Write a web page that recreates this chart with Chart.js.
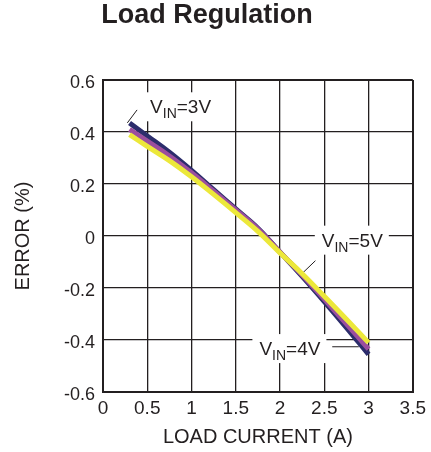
<!DOCTYPE html>
<html>
<head>
<meta charset="utf-8">
<script src="https://cdn.jsdelivr.net/npm/chart.js@4"></script>
<style>
  html, body { margin: 0; padding: 0; background: #fff; }
</style>
</head>
<body>
<canvas id="regChart" width="431" height="452"></canvas>
<script>
// -------------------------------
// DATA
// -------------------------------
const loadCurrent = [0.3, 0.5, 0.75, 1.0, 1.25, 1.5, 1.75, 2.0, 2.25, 2.5, 2.75, 3.0];
const errVin3 = [0.435, 0.385, 0.322, 0.252, 0.178, 0.104, 0.030, -0.062, -0.155, -0.252, -0.352, -0.455];
const errVin4 = [0.410, 0.365, 0.308, 0.243, 0.172, 0.100, 0.027, -0.062, -0.150, -0.243, -0.338, -0.435];
const errVin5 = [0.390, 0.345, 0.290, 0.228, 0.160, 0.090, 0.018, -0.065, -0.145, -0.232, -0.320, -0.410];

const xTickLabels = ["0", "0.5", "1", "1.5", "2", "2.5", "3", "3.5"];
const yTickLabels = ["-0.6", "-0.4", "-0.2", "0", "0.2", "0.4", "0.6"];

const seriesNames = ["3V", "4V", "5V"];

// -------------------------------
// STYLE
// -------------------------------
const FONT = '"Liberation Sans", Arial, Helvetica, sans-serif';
const INK = "#231f20";

function points(ys) {
    return loadCurrent.map((x, i) => ({ x: x, y: ys[i] }));
}

// -------------------------------
// V_IN LABELS (white boxed callouts with leader lines)
// -------------------------------
const vinNotes = {
    id: "vinNotes",
    beforeDatasetsDraw(chart, args, opts) {
        const { ctx } = chart;
        const xs = chart.scales.x, ys = chart.scales.y;
        ctx.save();
        opts.notes.forEach(n => {
            const px = xs.getPixelForValue(n.x);
            const py = ys.getPixelForValue(n.y);

            ctx.font = "19px " + FONT;
            const wV = ctx.measureText("V").width;
            const wTail = ctx.measureText("=" + n.name).width;
            ctx.font = "14px " + FONT;
            const wSub = ctx.measureText("IN").width;
            const total = wV + wSub + wTail;

            // white box hides the grid behind the text
            ctx.fillStyle = "#fff";
            ctx.fillRect(px - 7, py - 21, total + 13, 29);

            ctx.fillStyle = INK;
            ctx.textBaseline = "alphabetic";
            ctx.textAlign = "left";
            ctx.font = "19px " + FONT;
            ctx.fillText("V", px, py);
            ctx.font = "14px " + FONT;
            ctx.fillText("IN", px + wV, py + 5);
            ctx.font = "19px " + FONT;
            ctx.fillText("=" + n.name, px + wV + wSub, py);

            // leader line
            ctx.strokeStyle = INK;
            ctx.lineWidth = 1;
            ctx.beginPath();
            ctx.moveTo(xs.getPixelForValue(n.lead[0]), ys.getPixelForValue(n.lead[1]));
            ctx.lineTo(xs.getPixelForValue(n.lead[2]), ys.getPixelForValue(n.lead[3]));
            ctx.stroke();
        });
        ctx.restore();
    }
};

// -------------------------------
// CHART
// -------------------------------
const edgeWidth = c => (c.index === 0 || c.index === c.chart.scales[c.scale.id].ticks.length - 1) ? 2 : 1.3;

new Chart(document.getElementById("regChart"), {
    type: "scatter",
    data: {
        datasets: [
            { label: seriesNames[2], data: points(errVin5), borderColor: "#ece83a", order: 1 },
            { label: seriesNames[1], data: points(errVin4), borderColor: "#9b4f9e", order: 2 },
            { label: seriesNames[0], data: points(errVin3), borderColor: "#2c2d6c", order: 3 }
        ].map(d => Object.assign(d, {
            showLine: true,
            borderWidth: 5,
            pointRadius: 0,
            tension: 0.4,
            fill: false
        }))
    },
    options: {
        responsive: false,
        animation: false,
        layout: { padding: { left: 0, right: 17, top: 0, bottom: 0 } },
        plugins: {
            legend: { display: false },
            tooltip: { enabled: false },
            title: {
                display: true,
                text: "Load Regulation",
                color: INK,
                font: { family: FONT, size: 27, weight: "bold", lineHeight: 1 },
                padding: { top: 2, bottom: 51 }
            },
            vinNotes: {
                notes: [
                    { name: seriesNames[0], x: 0.532, y: 0.472, lead: [0.275, 0.435, 0.385, 0.485] },
                    { name: seriesNames[2], x: 2.472, y: -0.041, lead: [2.25, -0.144, 2.40, -0.095] },
                    { name: seriesNames[1], x: 1.767, y: -0.458, lead: [2.59, -0.426, 2.89, -0.426] }
                ]
            }
        },
        scales: {
            x: {
                type: "linear",
                min: 0,
                max: 3.5,
                afterFit: s => { s.height = 60; },
                ticks: {
                    stepSize: 0.5,
                    padding: 5,
                    color: INK,
                    font: { family: FONT, size: 19 },
                    callback: (v, i) => xTickLabels[i]
                },
                grid: { color: INK, lineWidth: edgeWidth, drawTicks: false },
                border: { color: INK, width: 2 },
                title: {
                    display: true,
                    text: "LOAD CURRENT (A)",
                    color: INK,
                    font: { family: FONT, size: 20 },
                    padding: { top: 0, bottom: 2.5 }
                }
            },
            y: {
                min: -0.6,
                max: 0.6,
                afterFit: s => { s.width = 103; },
                ticks: {
                    stepSize: 0.2,
                    padding: 8,
                    labelOffset: 3,
                    color: INK,
                    font: { family: FONT, size: 18 },
                    callback: (v, i) => yTickLabels[i]
                },
                grid: { color: INK, lineWidth: edgeWidth, drawTicks: false },
                border: { color: INK, width: 2 },
                title: {
                    display: true,
                    text: "ERROR (%)",
                    color: INK,
                    font: { family: FONT, size: 20 },
                    padding: { top: 11.5, bottom: 0 }
                }
            }
        }
    },
    plugins: [vinNotes]
});
</script>
</body>
</html>
